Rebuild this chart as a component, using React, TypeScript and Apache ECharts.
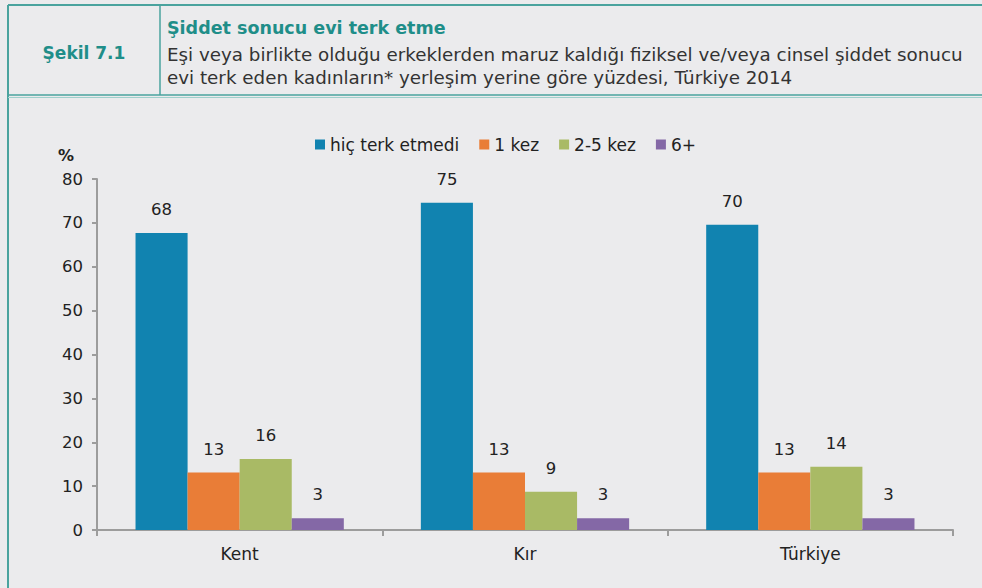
import React, { useEffect, useRef } from "react";
import * as echarts from "echarts";

const categories = ["Kent", "Kır", "Türkiye"];
const seriesNames = ["hiç terk etmedi", "1 kez", "2-5 kez", "6+"];
const hicTerkEtmedi = [67.7, 74.6, 69.6];
const birKez = [13.1, 13.1, 13.1];
const ikiBesKez = [16.2, 8.7, 14.4];
const altiArti = [2.7, 2.7, 2.7];
const colors = ["#1183B0", "#E97D37", "#A9BA65", "#8468A6"];
const yTicks = { min: 0, max: 80, interval: 10 };

const FONT = "'DejaVu Sans', 'Noto Sans', sans-serif";
const TEAL = "#4AA39E";
const TITLE_TEAL = "#1F8E89";

export default function App() {
  const ref = useRef<HTMLDivElement>(null);
  useEffect(() => {
    document.body.style.margin = "0";
    const chart = echarts.init(ref.current!, null, { renderer: "svg" });
    const values = [hicTerkEtmedi, birKez, ikiBesKez, altiArti];
    chart.setOption({
      animation: false,
      backgroundColor: "#EBEBED",
      textStyle: { fontFamily: FONT },
      legend: {
        top: 131,
        left: 310,
        itemWidth: 10,
        itemHeight: 10,
        itemGap: 20,
        icon: "rect",
        textStyle: { fontSize: 17, color: "#222", fontFamily: FONT },
        data: seriesNames,
      },
      grid: { left: 97, right: 29, top: 179, bottom: 58, containLabel: false },
      xAxis: {
        type: "category",
        data: categories,
        axisLine: { lineStyle: { color: "#9C9C9C", width: 2 } },
        axisTick: { show: true, length: 6, lineStyle: { color: "#9C9C9C", width: 2 } },
        axisLabel: { fontSize: 17, color: "#222", margin: 15, fontFamily: FONT },
      },
      yAxis: {
        type: "value",
        min: yTicks.min,
        max: yTicks.max,
        interval: yTicks.interval,
        axisLine: { show: true, lineStyle: { color: "#9C9C9C", width: 2 } },
        axisTick: { show: true, length: 5, lineStyle: { color: "#9C9C9C", width: 2 } },
        splitLine: { show: false },
        axisLabel: { fontSize: 16.5, color: "#222", margin: 14, fontFamily: FONT },
      },
      series: seriesNames.map((name, i) => ({
        name,
        type: "bar",
        data: values[i],
        barGap: "0%",
        barCategoryGap: "27%",
        itemStyle: { color: colors[i] },
        label: {
          show: true,
          position: "top",
          distance: 15,
          fontSize: 16.5,
          color: "#222",
          fontFamily: FONT,
          formatter: (p: any) => String(Math.round(p.value)),
        },
      })),
      graphic: [
        { type: "line", shape: { x1: 8, y1: 5, x2: 982, y2: 5 }, style: { stroke: TEAL, lineWidth: 2 } },
        { type: "line", shape: { x1: 8, y1: 5, x2: 8, y2: 588 }, style: { stroke: TEAL, lineWidth: 2 } },
        { type: "line", shape: { x1: 160, y1: 5, x2: 160, y2: 95 }, style: { stroke: TEAL, lineWidth: 1.5 } },
        { type: "line", shape: { x1: 8, y1: 95, x2: 982, y2: 95 }, style: { stroke: TEAL, lineWidth: 1.5 } },
        { type: "line", shape: { x1: 8, y1: 97.5, x2: 982, y2: 97.5 }, style: { stroke: "#9FCFCB", lineWidth: 1 } },
        {
          type: "text",
          x: 84,
          y: 53,
          style: {
            text: "Şekil 7.1",
            fill: TITLE_TEAL,
            font: `bold 17px ${FONT}`,
            align: "center",
            verticalAlign: "middle",
          },
        },
        {
          type: "text",
          x: 167,
          y: 28,
          style: {
            text: "Şiddet sonucu evi terk etme",
            fill: TITLE_TEAL,
            font: `bold 17.5px ${FONT}`,
            verticalAlign: "middle",
          },
        },
        {
          type: "text",
          x: 167,
          y: 54,
          style: {
            text: "Eşi veya birlikte olduğu erkeklerden maruz kaldığı fiziksel ve/veya cinsel şiddet sonucu",
            fill: "#333",
            font: `18.3px ${FONT}`,
            verticalAlign: "middle",
          },
        },
        {
          type: "text",
          x: 167,
          y: 77,
          style: {
            text: "evi terk eden kadınların* yerleşim yerine göre yüzdesi, Türkiye 2014",
            fill: "#333",
            font: `18.3px ${FONT}`,
            verticalAlign: "middle",
          },
        },
        {
          type: "text",
          x: 66,
          y: 155,
          style: {
            text: "%",
            fill: "#222",
            font: `bold 16px ${FONT}`,
            align: "center",
            verticalAlign: "middle",
          },
        },
      ],
    });
    return () => chart.dispose();
  }, []);
  return (
    <div
      ref={ref}
      style={{ position: "fixed", left: 0, top: 0, width: 982, height: 588 }}
    />
  );
}
